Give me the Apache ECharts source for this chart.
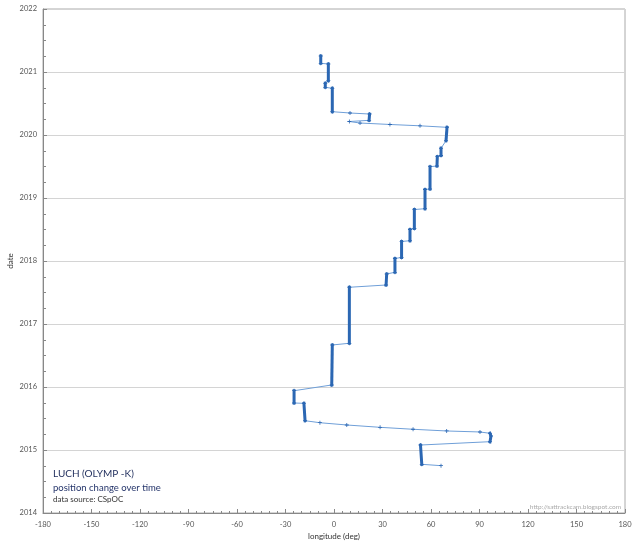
<!DOCTYPE html>
<html>
<head>
<meta charset="utf-8">
<script src="https://cdn.jsdelivr.net/npm/echarts@6/dist/echarts.min.js"></script>
<style>
  html, body { margin: 0; padding: 0; background: #fff; }
  #chart { width: 639px; height: 548px; }
</style>
</head>
<body>
<div id="chart"></div>
<script>
// track of the satellite (oldest first)
const longitudes = [
  66.2, 54.3, 53.5, 96.5, 97.1, 96.5, 90.3, 69.7, 48.9, 28.5, 7.9, -8.7, -17.9,
  -18.6, -24.7, -24.7, -1.4, -1.05, 9.5, 9.5, 32.2, 32.6, 37.7, 37.7, 41.8, 41.8,
  47.0, 47.0, 49.7, 49.7, 56.3, 56.3, 59.4, 59.4, 63.7, 63.9, 66.2, 66.2, 69.3,
  69.9, 53.2, 34.6, 16.1, 9.5, 21.7, 22.0, 9.9, -1.05, -1.05, -5.4, -5.4, -3.5,
  -3.5, -8.2, -8.2
];
const dates = [
  2014.751, 2014.773, 2015.079, 2015.132, 2015.222, 2015.265, 2015.286, 2015.302,
  2015.329, 2015.360, 2015.397, 2015.433, 2015.465, 2015.741, 2015.746, 2015.941,
  2016.032, 2016.667, 2016.694, 2017.583, 2017.619, 2017.794, 2017.821, 2018.040,
  2018.056, 2018.310, 2018.322, 2018.500, 2018.516, 2018.817, 2018.830, 2019.135,
  2019.143, 2019.497, 2019.508, 2019.656, 2019.675, 2019.789, 2019.910, 2020.122,
  2020.146, 2020.167, 2020.190, 2020.214, 2020.233, 2020.333, 2020.349, 2020.370,
  2020.741, 2020.757, 2020.821, 2020.862, 2021.127, 2021.138, 2021.254
];
const lonTicks = [-180, -150, -120, -90, -60, -30, 0, 30, 60, 90, 120, 150, 180];
const yearTicks = [2014, 2015, 2016, 2017, 2018, 2019, 2020, 2021, 2022];

const track = longitudes.map((lon, i) => [lon, dates[i]]);

// stationary stretches (longitude barely changes) are drawn heavy
const runs = [];
let cur = null;
for (let i = 0; i < track.length - 1; i++) {
  if (Math.abs(track[i + 1][0] - track[i][0]) < 1) {
    if (!cur) { cur = [track[i]]; runs.push(cur); }
    cur.push(track[i + 1]);
  } else {
    cur = null;
  }
}

const blue = '#2b67b3';
const font = 'Lato, "DejaVu Sans", sans-serif';
const plus = 'path://M4,0H6V4H10V6H6V10H4V6H0V4H4Z';

const series = [{
  type: 'line',
  data: track,
  symbol: plus,
  symbolSize: 4,
  showSymbol: true,
  itemStyle: { color: blue },
  lineStyle: { color: '#6f9fd8', width: 1 },
  animation: false,
  z: 2
}];
runs.forEach(r => series.push({
  type: 'line',
  data: r,
  symbol: 'none',
  lineStyle: { color: blue, width: 3, cap: 'square', join: 'miter' },
  animation: false,
  z: 3
}));

const chart = echarts.init(document.getElementById('chart'));
chart.setOption({
  animation: false,
  grid: {
    left: 43, right: 14, top: 9, bottom: 35,
    containLabel: false, outerBoundsMode: 'none',
    show: true, borderColor: '#aaa', borderWidth: 1, backgroundColor: 'transparent'
  },
  xAxis: {
    type: 'value',
    min: lonTicks[0], max: lonTicks[lonTicks.length - 1], interval: 30,
    name: 'longitude (deg)', nameLocation: 'middle', nameGap: 19, nameMoveOverlap: false,
    nameTextStyle: { fontFamily: font, fontSize: 8, color: '#333' },
    axisLine: { show: true, onZero: false, lineStyle: { color: '#888' } },
    axisTick: { show: true, inside: true, length: 4, lineStyle: { color: '#888' } },
    minorTick: { show: true, splitNumber: 6, length: 2, lineStyle: { color: '#888' } },
    axisLabel: { fontFamily: font, fontSize: 7.5, color: '#555', margin: 8 },
    splitLine: { show: false }
  },
  yAxis: {
    type: 'value',
    min: yearTicks[0], max: yearTicks[yearTicks.length - 1], interval: 1,
    name: 'date', nameLocation: 'middle', nameGap: 29, nameRotate: 90, nameMoveOverlap: false,
    nameTextStyle: { fontFamily: font, fontSize: 8, color: '#333' },
    axisLine: { show: true, onZero: false, lineStyle: { color: '#888' } },
    axisTick: { show: true, inside: true, length: 4, lineStyle: { color: '#888' } },
    minorTick: { show: true, splitNumber: 4, length: 3, lineStyle: { color: '#888' } },
    axisLabel: { fontFamily: font, fontSize: 7.5, color: '#555', margin: 6, formatter: v => String(v) },
    splitLine: { show: true, lineStyle: { color: '#d4d4d4', width: 1 } }
  },
  graphic: [
    { type: 'text', left: 53, top: 469, style: { text: 'LUCH (OLYMP -K)', font: '10px ' + font, fill: '#1f2d5c' } },
    { type: 'text', left: 53, top: 483, style: { text: 'position change over time', font: '9.5px ' + font, fill: '#24346a' } },
    { type: 'text', left: 53, top: 495, style: { text: 'data source: CSpOC', font: '8px ' + font, fill: '#333' } },
    { type: 'text', right: 18, top: 503, style: { text: 'http://sattrackcam.blogspot.com', font: '6.5px ' + font, fill: '#aaa' } }
  ],
  series: series
});
</script>
</body>
</html>
